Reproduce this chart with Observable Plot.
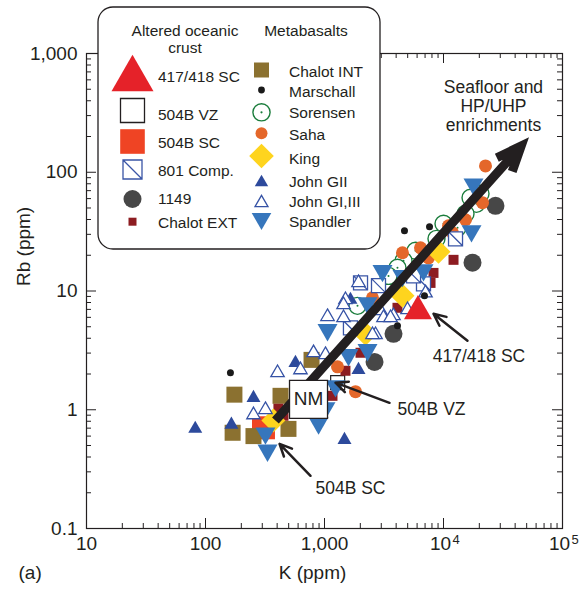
<!DOCTYPE html>
<html><head><meta charset="utf-8">
<script src="https://cdn.jsdelivr.net/npm/d3@7"></script>
<script src="https://cdn.jsdelivr.net/npm/@observablehq/plot@0.6"></script>
<style>
html,body{margin:0;padding:0;background:#fff;}
#chart{width:583px;height:598px;}
svg{font-family:"Liberation Sans",Arial,Helvetica,sans-serif;}
</style></head><body><div id="chart"></div>
<script>
// ---------- axis ticks ----------
const xTicks = [10, 100, 1000, 1e4, 1e5];
const xTickLabels = ["10", "100", "1,000", "10", "10"];
const xTickExps = ["", "", "", "4", "5"];
const yTicks = [0.1, 1, 10, 100, 1000];
const yTickLabels = ["0.1", "1", "10", "100", "1,000"];

// ---------- data: [K ppm, Rb ppm] ----------
const s417 = [[6100, 7.3]];
const s504VZ = [[1290, 1.69]];
const s504SC = [[307, 0.705]];
const s801 = [[12620, 27.5], [2843, 11.1], [6790, 11.5], [5600, 13.4], [1652, 4.9], [2008, 11.7]];
const s1149 = [[27340, 52.2], [17530, 17.3], [3800, 4.36], [2633, 2.53]];
const chalotEXT = [[12140, 18.3], [8240, 14.2], [7780, 11.7], [4104, 7.22], [2008, 3.02], [1500, 2.13], [452, 0.89], [410, 1.02], [1167, 1.31]];
const chalotINT = [[175, 1.34], [169, 0.64], [253, 0.6], [427, 1.31], [498, 0.69], [778, 2.63]];
const marschall = [[162, 2.05], [4700, 32.1], [7630, 34.7], [6920, 9.12], [4104, 5.09]];
const sorensen = [[20460, 66], [16870, 61], [18920, 54.2], [15310, 44.7], [13120, 34.1], [10000, 36.8], [8730, 27.5], [5820, 21.8], [4613, 18.0], [4104, 15.7], [3450, 13.4], [1893, 7.5]];
const saha = [[22540, 113], [21270, 55.4], [15310, 39.8], [11020, 35.4], [11910, 30.9], [4522, 21.0], [6410, 23.1], [7480, 19.0], [2531, 8.77], [1286, 2.3], [1822, 1.42]];
const king = [[9080, 21.4], [4522, 9.12], [2212, 4.36], [372, 0.81]];
const johnGII = [[1652, 8.77], [1930, 2.25], [570, 2.58], [253, 1.31], [82, 0.72], [165, 0.78], [1472, 0.58]];
const johnGI = [[1930, 12.2], [1500, 8.77], [1060, 6.31], [1445, 6.18], [2957, 7.08], [4983, 7.22], [3800, 6.43], [2685, 4.45], [3131, 6.18], [1445, 7.96], [403, 2.13], [809, 3.13], [628, 2.25], [319, 1.04], [253, 0.94], [1019, 3.02], [2531, 4.45], [3587, 6.18], [7060, 10.0]];
const spandler = [[17870, 75], [17190, 30.3], [6790, 14.2], [3072, 14.0], [4522, 12.7], [2298, 7.5], [1060, 4.45], [1592, 2.74], [2298, 3.02], [1237, 1.5], [891, 0.73], [332, 0.43], [319, 0.6], [1019, 0.98]];

// ---------- annotations (data coordinates) ----------
const trendArrow = [{k1: 387, rb1: 0.81, k2: 51800, rb2: 195}];
const noteArrows = [
  {k1: 15900, rb1: 3.81, k2: 8240, rb2: 6.43},
  {k1: 3516, rb1: 1.144, k2: 1237, rb2: 1.69},
  {k1: 763, rb1: 0.278, k2: 419, rb2: 0.516}
];
const noteLabels = [
  {k: 19870, rb: 2.84, text: "417/418 SC"},
  {k: 7920, rb: 1.02, text: "504B VZ"},
  {k: 1652, rb: 0.221, text: "504B SC"},
  {k: 26300, rb: 363, text: "Seafloor and\nHP/UHP\nenrichments"}
];
const nmLabel = [{k: 734, rb: 1.225, text: "NM"}];

// legend names
const legendLeftTitle = ["Altered oceanic", "crust"];
const legendRightTitle = "Metabasalts";
const legendLeftNames = ["417/418 SC", "504B VZ", "504B SC", "801 Comp.", "1149", "Chalot EXT"];
const legendRightNames = ["Chalot INT", "Marschall", "Sorensen", "Saha", "King", "John GII", "John GI,III", "Spandler"];

// ---------- colours ----------
const ink = "#231f20";
const cRed417 = "#e52229", cRed504 = "#ef4424", cBlue801 = "#3a55a6", cGray = "#474747",
      cDarkRed = "#8d1c21", cOlive = "#8b7130", cGreen = "#1b7d3c", cOrange = "#e4672a",
      cYellow = "#fed41e", cBlueTri = "#2d4a9c", cBlueOpen = "#3552a5", cSpandler = "#3676bc";

// ---------- custom symbols (r = half width) ----------
const rOf = s => Math.sqrt(s / Math.PI);
const symTriUp = {draw(c, s) { const r = rOf(s), h = r * Math.sqrt(3); c.moveTo(0, -h / 2); c.lineTo(r, h / 2); c.lineTo(-r, h / 2); c.closePath(); }};
const symTriDown = {draw(c, s) { const r = rOf(s), h = r * Math.sqrt(3); c.moveTo(0, h / 2); c.lineTo(r, -h / 2); c.lineTo(-r, -h / 2); c.closePath(); }};
const symSquare = {draw(c, s) { const r = rOf(s); c.moveTo(-r, -r); c.lineTo(r, -r); c.lineTo(r, r); c.lineTo(-r, r); c.closePath(); }};
const symSquareDiag = {draw(c, s) { const r = rOf(s); c.moveTo(-r, -r); c.lineTo(r, -r); c.lineTo(r, r); c.lineTo(-r, r); c.closePath(); c.moveTo(-r, -r); c.lineTo(r, r); }};
const symDiamond = {draw(c, s) { const r = rOf(s); c.moveTo(0, -r); c.lineTo(r, 0); c.lineTo(0, r); c.lineTo(-r, 0); c.closePath(); }};
const symCircle = {draw(c, s) { const r = rOf(s); c.moveTo(r, 0); c.arc(0, 0, r, 0, 2 * Math.PI); }};

// ---------- layout ----------
const W = 583, H = 598, mL = 86, mR = 21, mT = 53, mB = 70;
const fw = W - mL - mR, fh = H - mT - mB;
const xMinor = []; for (const d of [10, 100, 1000, 10000]) for (let m = 2; m <= 9; m++) xMinor.push(d * m);
const yMinor = []; for (const d of [0.1, 1, 10, 100]) for (let m = 2; m <= 9; m++) yMinor.push(+(d * m).toPrecision(3));
const xLabData = xTicks.map((v, i) => ({v, lab: xTickLabels[i], exp: xTickExps[i]}));
const yLab = new Map(yTicks.map((d, i) => [d, yTickLabels[i]]));

const ser = (data, symbol, r, fill, stroke = "none", sw = 1) =>
  Plot.dot(data, {x: d => d[0], y: d => d[1], symbol, r, fill, stroke, strokeWidth: sw});

const ticks = (len, xs, ys) => [
  Plot.tickX(xs, {x: d => d, insetTop: fh - len, stroke: ink, strokeWidth: 1}),
  Plot.tickX(xs, {x: d => d, insetBottom: fh - len, stroke: ink, strokeWidth: 1}),
  Plot.tickY(ys, {y: d => d, insetRight: fw - len, stroke: ink, strokeWidth: 1}),
  Plot.tickY(ys, {y: d => d, insetLeft: fw - len, stroke: ink, strokeWidth: 1})
];

const plot = Plot.plot({
  width: W, height: H,
  marginLeft: mL, marginRight: mR, marginTop: mT, marginBottom: mB,
  x: {type: "log", domain: [10, 1e5]},
  y: {type: "log", domain: [0.1, 1000]},
  style: {fontFamily: '"Liberation Sans", Arial, sans-serif', fontSize: "19px", color: ink, background: "white"},
  marks: [
    Plot.axisX({ticks: [], tickSize: 0, label: null}),
    Plot.axisY({ticks: yTicks, tickSize: 0, tickPadding: 9, tickFormat: d => yLab.get(d), label: null, fontSize: 19, fill: ink}),
    // x tick labels with superscript exponents
    Plot.text(xLabData.filter(d => !d.exp), {x: "v", frameAnchor: "bottom", text: "lab", dy: 21, fontSize: 19, fill: ink}),
    Plot.text(xLabData.filter(d => d.exp), {x: "v", frameAnchor: "bottom", text: "lab", dy: 21, dx: -3, fontSize: 19, fill: ink}),
    Plot.text(xLabData.filter(d => d.exp), {x: "v", frameAnchor: "bottom", text: "exp", dy: 15, dx: 9, textAnchor: "start", fontSize: 13, fill: ink}),
    ...ticks(10, xTicks, yTicks),
    ...ticks(5, xMinor, yMinor),
    // data series
    ser(s504VZ, symSquare, 7, "white", ink, 1.2),
    ser(s504SC, symSquare, 11.5, cRed504),
    ser(chalotINT, symSquare, 8, cOlive),
    ser(chalotEXT, symSquare, 5, cDarkRed),
    ser(s1149, symCircle, 9, cGray),
    ser(sorensen, symCircle, 8.5, "white", cGreen, 1.4),
    Plot.dot(sorensen, {x: d => d[0], y: d => d[1], r: 1, fill: cGreen}),
    ser(saha, symCircle, 6.5, cOrange),
    ser(king, symDiamond, 12, cYellow),
    ser(s801, symSquareDiag, 7, "white", cBlue801, 1.3),
    ser(johnGII, symTriUp, 7, cBlueTri),
    ser(johnGI, symTriUp, 6.7, "white", cBlueOpen, 1.3),
    ser(spandler, symTriDown, 10, cSpandler),
    ser(s417, symTriUp, 14, cRed417),
    ser(marschall, symCircle, 3.5, "#1a1a1a"),
    // trend arrow + NM
    Plot.arrow(trendArrow, {x1: "k1", y1: "rb1", x2: "k2", y2: "rb2", stroke: ink, strokeWidth: 9,
      headLength: 4.5, headAngle: 45, insetEnd: 11, strokeLinejoin: "miter", strokeLinecap: "butt", strokeMiterlimit: 10}),
    Plot.dot(nmLabel, {x: "k", y: "rb", symbol: symSquare, r: 19, fill: "white", stroke: ink, strokeWidth: 1.3}),
    Plot.text(nmLabel, {x: "k", y: "rb", text: "text", fontSize: 19, fill: ink}),
    // labels & pointer arrows
    Plot.arrow(noteArrows, {x1: "k1", y1: "rb1", x2: "k2", y2: "rb2", stroke: ink, strokeWidth: 2.5, headLength: 8, headAngle: 50}),
    Plot.text(noteLabels, {x: "k", y: "rb", text: "text", fontSize: 17.5, lineHeight: 1.08, fill: ink}),
    // titles
    Plot.text(["K (ppm)"], {frameAnchor: "bottom", text: d => d, dx: -12, dy: 50, fontSize: 19, fill: ink}),
    Plot.text(["(a)"], {frameAnchor: "bottom-left", text: d => d, dx: -68, dy: 50, fontSize: 19, fill: ink}),
    Plot.text(["Rb (ppm)"], {frameAnchor: "left", text: d => d, dx: -63, dy: -5, rotate: -90, fontSize: 19, fill: ink}),
    Plot.frame({stroke: ink, strokeWidth: 1.2})
  ]
});
document.getElementById("chart").appendChild(plot);

// ---------- legend ----------
const svg = d3.select(plot);
const lg = svg.append("g").attr("font-family", '"Liberation Sans", Arial, sans-serif')
  .attr("font-size", 15.5).attr("fill", ink).attr("text-anchor", "start");
lg.append("rect").attr("x", 98).attr("y", 7).attr("width", 282).attr("height", 242).attr("rx", 15)
  .attr("fill", "white").attr("stroke", ink).attr("stroke-width", 1.3);
lg.append("text").attr("x", 185).attr("y", 36).attr("text-anchor", "middle").text(legendLeftTitle[0]);
lg.append("text").attr("x", 185).attr("y", 53).attr("text-anchor", "middle").text(legendLeftTitle[1]);
lg.append("text").attr("x", 306).attr("y", 36).attr("text-anchor", "middle").text(legendRightTitle);

function sym(g, type, r, cx, cy, fill, stroke = "none", sw = 1) {
  g.append("path").attr("d", d3.symbol(type, Math.PI * r * r)()).attr("transform", `translate(${cx},${cy})`)
    .attr("fill", fill).attr("stroke", stroke).attr("stroke-width", sw);
}
const leftStyles = [
  [symTriUp, 21, 73, cRed417, "none", 1],
  [symSquare, 12, 110.5, "white", ink, 1.3],
  [symSquare, 12.3, 141.5, cRed504, "none", 1],
  [symSquareDiag, 9.5, 169.5, "white", cBlue801, 1.3],
  [symCircle, 9, 199, cGray, "none", 1],
  [symSquare, 4, 221.7, cDarkRed, "none", 1]
];
const leftBase = [81.5, 120, 148, 176, 204, 228];
legendLeftNames.forEach((n, i) => {
  const [t, r, cy, f, s, w] = leftStyles[i];
  sym(lg, t, r, 132.5, cy, f, s, w);
  lg.append("text").attr("x", 158).attr("y", leftBase[i]).attr("text-anchor", "start").text(n);
});
const rightStyles = [
  [symSquare, 7.5, 70, cOlive, "none", 1],
  [symCircle, 3.4, 90, "#1a1a1a", "none", 1],
  [symCircle, 8.6, 112.3, "white", cGreen, 1.4],
  [symCircle, 6, 133.3, cOrange, "none", 1],
  [symDiamond, 12.3, 156, cYellow, "none", 1],
  [symTriUp, 6.7, 180.5, cBlueTri, "none", 1],
  [symTriUp, 6.5, 201, "white", cBlueOpen, 1.3],
  [symTriDown, 9.8, 221.5, cSpandler, "none", 1]
];
const rightBase = [77, 97, 118, 140, 163.5, 186.7, 207.3, 227];
legendRightNames.forEach((n, i) => {
  const [t, r, cy, f, s, w] = rightStyles[i];
  sym(lg, t, r, 261.5, cy, f, s, w);
  if (i === 2) sym(lg, symCircle, 1.1, 261.5, cy, cGreen);
  lg.append("text").attr("x", 289).attr("y", rightBase[i]).attr("text-anchor", "start").text(n);
});
</script></body></html>
